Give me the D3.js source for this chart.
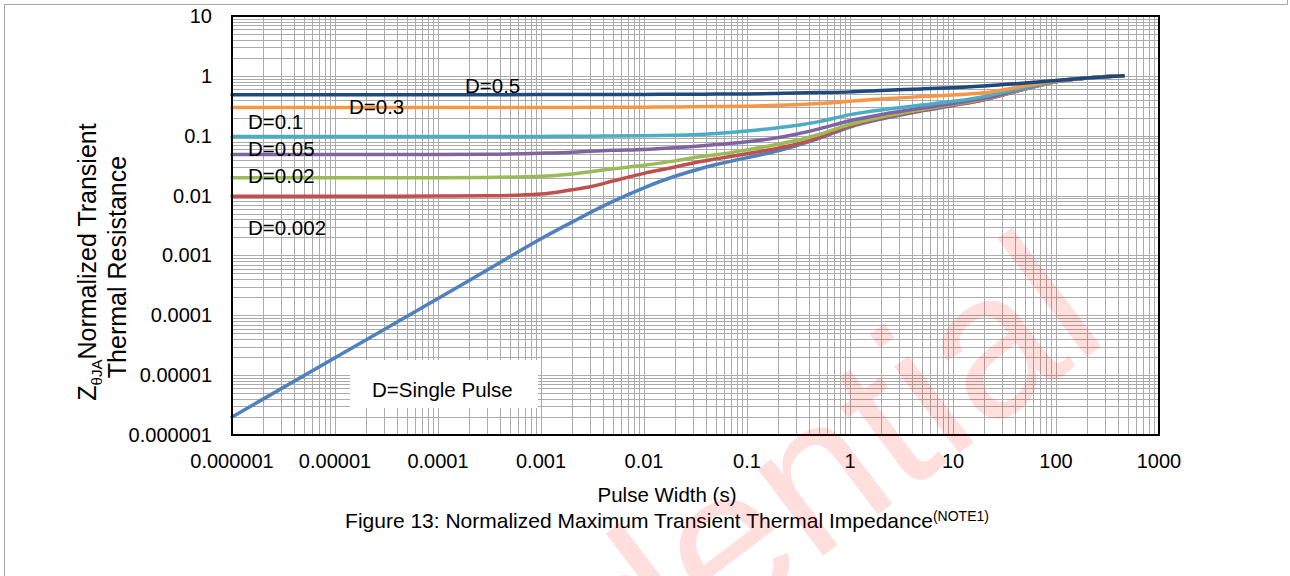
<!DOCTYPE html>
<html>
<head>
<meta charset="utf-8">
<script src="https://cdn.jsdelivr.net/npm/d3@7/dist/d3.min.js"></script>
<style>
  body { margin: 0; background: #fff; }
  text { font-family: "Liberation Sans", Arial, sans-serif; fill: #000; }
</style>
</head>
<body>
<div id="chart"></div>
<script>
// pulse widths (s) the curves were read at
var pulseWidth = [1e-6, 1e-5, 1e-4, 3e-4, 1e-3, 2e-3, 3e-3, 5e-3, 0.01, 0.02, 0.03, 0.05, 0.1, 0.2, 0.3, 0.5, 1, 2, 5, 10, 20, 50, 100, 200, 450];

// normalized Z(theta JA) per duty cycle, same order as pulseWidth
var zSingle = [2.0e-6, 1.95e-5, 1.9e-4, 5.7e-4, 1.9e-3, 3.6e-3, 5.2e-3, 8.0e-3, 0.0135, 0.021, 0.026, 0.033, 0.043, 0.056, 0.068, 0.09, 0.14, 0.19, 0.26, 0.32, 0.4, 0.6, 0.8, 0.92, 1.0];
var zD001 = [0.0097, 0.0097, 0.0098, 0.0099, 0.0106, 0.0125, 0.014, 0.0175, 0.0235, 0.03, 0.035, 0.041, 0.05, 0.062, 0.072, 0.094, 0.145, 0.195, 0.265, 0.325, 0.4, 0.6, 0.8, 0.92, 1.0];
var zD002 = [0.0198, 0.0198, 0.0198, 0.0201, 0.021, 0.023, 0.025, 0.028, 0.032, 0.038, 0.043, 0.048, 0.058, 0.072, 0.083, 0.105, 0.155, 0.205, 0.275, 0.335, 0.41, 0.61, 0.8, 0.92, 1.0];
var zD005 = [0.0485, 0.0485, 0.0486, 0.049, 0.051, 0.053, 0.055, 0.057, 0.059, 0.063, 0.066, 0.071, 0.079, 0.093, 0.106, 0.13, 0.178, 0.225, 0.29, 0.345, 0.42, 0.62, 0.81, 0.92, 1.0];
var zD01 = [0.097, 0.097, 0.097, 0.097, 0.097, 0.098, 0.098, 0.099, 0.1, 0.102, 0.104, 0.109, 0.12, 0.136, 0.148, 0.172, 0.225, 0.27, 0.325, 0.375, 0.45, 0.64, 0.82, 0.92, 1.0];
var zD03 = [0.295, 0.295, 0.295, 0.295, 0.296, 0.297, 0.298, 0.299, 0.3, 0.302, 0.304, 0.307, 0.312, 0.322, 0.33, 0.345, 0.375, 0.41, 0.45, 0.48, 0.52, 0.68, 0.83, 0.92, 1.0];
var zD05 = [0.485, 0.485, 0.485, 0.485, 0.486, 0.487, 0.488, 0.489, 0.49, 0.492, 0.494, 0.496, 0.5, 0.508, 0.515, 0.525, 0.54, 0.57, 0.605, 0.635, 0.675, 0.76, 0.84, 0.92, 1.0];

// drawn bottom to top
var seriesValues = [zSingle, zD001, zD002, zD005, zD01, zD03, zD05];
var seriesColors = ["#4F81BD", "#C0504D", "#9BBB59", "#8064A2", "#4BACC6", "#F79646", "#1F497D"];

var xTickLabels = ["0.000001", "0.00001", "0.0001", "0.001", "0.01", "0.1", "1", "10", "100", "1000"];
var yTickLabels = ["0.000001", "0.00001", "0.0001", "0.001", "0.01", "0.1", "1", "10"];

var labelText = ["D=0.5", "D=0.3", "D=0.1", "D=0.05", "D=0.02", "D=0.002"];
var labelX = [465, 349, 248, 248, 248, 248];
var labelY = [93, 114, 129, 155.5, 182.5, 235];

var W = 1290, H = 576;
var plot = {left: 232, top: 16, right: 1159, bottom: 435};

var svg = d3.select("#chart").append("svg")
  .attr("width", W)
  .attr("height", H);

// page frame
svg.append("path")
  .attr("d", "M4.5,576V4.5H1287.5V0")
  .attr("fill", "none")
  .attr("stroke", "#a6a6a6")
  .attr("stroke-width", 1);

var x = d3.scaleLog().domain([1e-6, 1000]).range([plot.left, plot.right]);
var y = d3.scaleLog().domain([1e-6, 10]).range([plot.bottom, plot.top]);

function crisp(v) { return Math.round(v) + 0.5; }

// log grid, every 1..9 of each decade
var grid = svg.append("g").attr("stroke", "#ababab").attr("stroke-width", 1);
grid.selectAll("line.v")
  .data(x.ticks())
  .enter().append("line")
  .attr("class", "v")
  .attr("x1", function(d) { return crisp(x(d)); })
  .attr("x2", function(d) { return crisp(x(d)); })
  .attr("y1", plot.top)
  .attr("y2", plot.bottom);
grid.selectAll("line.h")
  .data(y.ticks())
  .enter().append("line")
  .attr("class", "h")
  .attr("x1", plot.left)
  .attr("x2", plot.right)
  .attr("y1", function(d) { return crisp(y(d)); })
  .attr("y2", function(d) { return crisp(y(d)); });

// white box behind the single pulse label
svg.append("rect")
  .attr("x", 350).attr("y", 360)
  .attr("width", 188).attr("height", 48)
  .attr("fill", "#fff");

var line = d3.line()
  .x(function(d) { return x(d[0]); })
  .y(function(d) { return y(d[1]); })
  .curve(d3.curveMonotoneX);

svg.append("g").selectAll("path")
  .data(seriesValues)
  .enter().append("path")
  .attr("d", function(vals) { return line(pulseWidth.map(function(t, i) { return [t, vals[i]]; })); })
  .attr("fill", "none")
  .attr("stroke", function(d, i) { return seriesColors[i]; })
  .attr("stroke-width", 3.5)
  .attr("stroke-linecap", "round")
  .attr("stroke-linejoin", "round");

// plot frame
svg.append("rect")
  .attr("x", plot.left).attr("y", plot.top)
  .attr("width", plot.right - plot.left)
  .attr("height", plot.bottom - plot.top)
  .attr("fill", "none")
  .attr("stroke", "#000")
  .attr("stroke-width", 2);

// tick labels
svg.append("g").selectAll("text")
  .data(xTickLabels)
  .enter().append("text")
  .attr("x", function(d) { return x(+d); })
  .attr("y", 468)
  .attr("text-anchor", "middle")
  .style("font-size", "20px")
  .text(function(d) { return d; });

svg.append("g").selectAll("text")
  .data(yTickLabels)
  .enter().append("text")
  .attr("x", 212)
  .attr("y", function(d) { return y(+d) + 7; })
  .attr("text-anchor", "end")
  .style("font-size", "20px")
  .text(function(d) { return d; });

// curve labels
svg.append("g").selectAll("text")
  .data(labelText)
  .enter().append("text")
  .attr("x", function(d, i) { return labelX[i]; })
  .attr("y", function(d, i) { return labelY[i]; })
  .style("font-size", "20.5px")
  .text(function(d) { return d; });

svg.append("text")
  .attr("x", 372).attr("y", 397)
  .style("font-size", "20.5px")
  .text("D=Single Pulse");

// axis titles
var yTitle = svg.append("text")
  .attr("transform", "translate(96,262) rotate(-90)")
  .attr("text-anchor", "middle")
  .style("font-size", "25px");
yTitle.append("tspan").text("Z");
yTitle.append("tspan").attr("dy", 6).style("font-size", "15px").text("θJA");
yTitle.append("tspan").attr("dy", -6).text("Normalized Transient");

svg.append("text")
  .attr("transform", "translate(126,267) rotate(-90)")
  .attr("text-anchor", "middle")
  .style("font-size", "25px")
  .text("Thermal Resistance");

svg.append("text")
  .attr("x", 667).attr("y", 502)
  .attr("text-anchor", "middle")
  .style("font-size", "20.5px")
  .text("Pulse Width (s)");

var caption = svg.append("text")
  .attr("x", 667).attr("y", 528)
  .attr("text-anchor", "middle")
  .style("font-size", "21px");
caption.append("tspan").text("Figure 13: Normalized Maximum Transient Thermal Impedance");
caption.append("tspan").attr("dy", -7).style("font-size", "14px").text("(NOTE1)");

// watermark
svg.append("text")
  .attr("transform", "translate(1112,338) rotate(-37)")
  .attr("text-anchor", "end")
  .style("font-size", "205px")
  .style("fill", "#ff0000")
  .style("fill-opacity", 0.13)
  .text("Confidential");
</script>
</body>
</html>
